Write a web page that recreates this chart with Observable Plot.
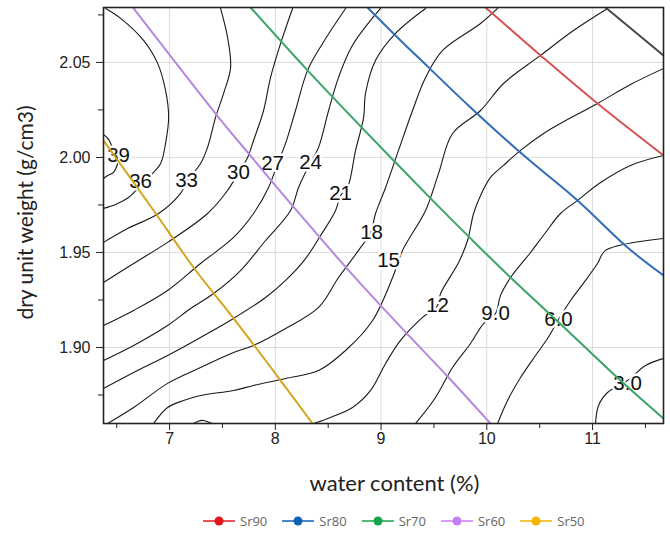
<!DOCTYPE html>
<html><head><meta charset="utf-8">
<script src="https://cdn.jsdelivr.net/npm/d3@7"></script>
<script src="https://cdn.jsdelivr.net/npm/@observablehq/plot@0.6"></script>
<style>
body{margin:0;background:#fff;}
#wrap{position:relative;width:670px;height:533px;overflow:hidden;}
#legend{position:absolute;left:203px;top:511px;height:20px;display:flex;align-items:center;font:13px "Open Sans",sans-serif;color:#666;}
.item{display:flex;align-items:center;margin-right:15px;}
.item svg{margin-right:5px;}
</style></head><body>
<div id="wrap"><div id="chart"></div><div id="legend"></div></div>
<script>
// ---- data (water content %, dry unit weight g/cm3) ----
const xTicks = [7, 8, 9, 10, 11];
const xMinor = [6.5, 7.5, 8.5, 9.5, 10.5, 11.5];
const yTicks = [1.90, 1.95, 2.00, 2.05];
const yMinor = [1.875, 1.925, 1.975, 2.025, 2.075];

const contourLevels = ["39", "36", "33", "30", "27", "24", "21", "18", "15", "12", "9.0", "6.0", "3.0", "15b"];
const c39 = [[6.375,2.0121],[6.423,2.0095],[6.452,2.0063],[6.518,2.0011],[6.470,1.9921],[6.414,1.9905],[6.375,1.9889]];
const c36 = [[6.395,2.0784],[6.537,2.0732],[6.754,2.0616],[6.887,2.0495],[6.962,2.0353],[6.991,2.0211],[6.962,2.0074],[6.915,1.9968],[6.820,1.9905],[6.707,1.9842],[6.612,1.9789],[6.489,1.9753],[6.375,1.9732]];
const c33 = [[7.482,2.0784],[7.548,2.0632],[7.577,2.0474],[7.511,2.0337],[7.435,2.0211],[7.359,2.0053],[7.293,1.9968],[7.170,1.9879],[7.104,1.9811],[6.896,1.9705],[6.603,1.9626],[6.375,1.9553]];
const c30 = [[8.163,2.0784],[8.050,2.0600],[7.955,2.0421],[7.889,2.0247],[7.794,2.0089],[7.738,2.0000],[7.652,1.9921],[7.548,1.9826],[7.359,1.9705],[6.981,1.9553],[6.660,1.9442],[6.375,1.9342]];
const c27 = [[8.664,2.0784],[8.447,2.0600],[8.305,2.0458],[8.191,2.0247],[8.097,2.0074],[8.021,1.9968],[7.936,1.9842],[7.794,1.9705],[7.605,1.9579],[7.293,1.9442],[6.981,1.9300],[6.660,1.9195],[6.375,1.9116]];
const c24 = [[8.995,2.0784],[8.730,2.0590],[8.598,2.0421],[8.504,2.0247],[8.409,2.0053],[8.333,1.9974],[8.220,1.9842],[8.144,1.9721],[7.908,1.9563],[7.671,1.9405],[7.416,1.9284],[7.199,1.9205],[6.981,1.9116],[6.660,1.9011],[6.375,1.8932]];
const c21 = [[9.421,2.0784],[9.137,2.0653],[8.948,2.0511],[8.853,2.0337],[8.835,2.0211],[8.759,2.0037],[8.683,1.9842],[8.617,1.9800],[8.570,1.9721],[8.428,1.9589],[8.286,1.9468],[8.097,1.9353],[7.908,1.9263],[7.605,1.9153],[7.293,1.9053],[6.981,1.8958],[6.660,1.8868],[6.375,1.8784]];
const c18 = [[10.102,2.0784],[9.941,2.0705],[9.582,2.0563],[9.421,2.0421],[9.298,2.0247],[9.165,2.0037],[9.043,1.9842],[8.948,1.9705],[8.901,1.9605],[8.787,1.9511],[8.598,1.9368],[8.409,1.9211],[8.097,1.9100],[7.794,1.9011],[7.605,1.8974],[7.293,1.8895],[6.981,1.8811],[6.660,1.8684],[6.414,1.8600]];
const c15 = [[11.142,2.0784],[10.820,2.0668],[10.508,2.0537],[10.158,2.0389],[9.941,2.0247],[9.676,2.0126],[9.544,1.9916],[9.421,1.9721],[9.203,1.9511],[9.109,1.9368],[8.920,1.9142],[8.664,1.8984],[8.409,1.8879],[8.097,1.8837],[7.794,1.8800],[7.605,1.8774],[7.293,1.8747],[7.132,1.8721],[6.981,1.8684],[6.849,1.8600]];
const c12 = [[11.671,2.0468],[11.359,2.0384],[11.047,2.0284],[10.697,2.0179],[10.537,2.0126],[10.319,2.0037],[10.158,1.9958],[10.035,1.9895],[9.941,1.9800],[9.875,1.9705],[9.818,1.9563],[9.733,1.9447],[9.563,1.9284],[9.534,1.9221],[9.392,1.9158],[9.184,1.9037],[9.043,1.8916],[8.901,1.8774],[8.730,1.8684],[8.522,1.8632],[8.362,1.8600]];
const c9 = [[11.671,2.0011],[11.359,1.9958],[11.076,1.9868],[10.858,1.9774],[10.697,1.9705],[10.556,1.9605],[10.414,1.9500],[10.225,1.9368],[10.130,1.9274],[10.083,1.9179],[9.969,1.9126],[9.846,1.9021],[9.676,1.8895],[9.515,1.8737],[9.326,1.8600]];
const c6 = [[11.671,1.9574],[11.123,1.9511],[11.047,1.9442],[10.934,1.9353],[10.792,1.9247],[10.678,1.9147],[10.574,1.9047],[10.461,1.8958],[10.319,1.8842],[10.196,1.8721],[10.102,1.8600]];
const c3 = [[11.671,1.8942],[11.501,1.8905],[11.331,1.8826],[11.142,1.8763],[11.057,1.8695],[11.028,1.8600]];
const c15b = [[7.227,1.8600],[7.265,1.8611],[7.322,1.8616],[7.378,1.8605],[7.407,1.8600]];
const contourPaths = [c39, c36, c33, c30, c27, c24, c21, c18, c15, c12, c9, c6, c3, c15b];

const labelText = ["39", "36", "33", "30", "27", "24", "21", "18", "15", "12", "9.0", "6.0", "3.0"];
const labelW = [6.518, 6.726, 7.161, 7.652, 7.974, 8.333, 8.617, 8.910, 9.071, 9.534, 10.083, 10.678, 11.331];
const labelG = [2.0011, 1.9874, 1.9879, 1.9921, 1.9968, 1.9974, 1.9811, 1.9605, 1.9458, 1.9221, 1.9179, 1.9147, 1.8811];

const srNames = ["Sr90", "Sr80", "Sr70", "Sr60", "Sr50", "Sr100"];
const srColors = ["#d65454", "#2f6db8", "#3aa468", "#b688dc", "#d4a620", "#4a4a4a"];
const legendColors = ["#e3161e", "#0e62b4", "#14a34c", "#c77ef0", "#f5b400"];
const sr90 = [[9.988,2.0789],[10.508,2.0537],[11.047,2.0284],[11.671,2.0011]];
const sr80 = [[8.872,2.0789],[9.165,2.0626],[9.449,2.0474],[9.846,2.0263],[10.348,2.0011],[10.858,1.9774],[11.331,1.9526],[11.671,1.9379]];
const sr70 = [[7.766,2.0789],[8.305,2.0458],[8.825,2.0153],[9.487,1.9774],[9.846,1.9574],[10.225,1.9368],[10.792,1.9074],[11.265,1.8826],[11.671,1.8626]];
const sr60 = [[6.660,2.0784],[7.463,2.0211],[7.747,2.0021],[8.201,1.9721],[8.778,1.9353],[9.279,1.9053],[9.638,1.8842],[10.035,1.8600]];
const sr50 = [[6.375,2.0089],[6.849,1.9721],[7.227,1.9421],[7.605,1.9153],[8.050,1.8826],[8.352,1.8600]];
const sr100 = [[11.123,2.0789],[11.671,2.0537]];
const srPaths = [sr90, sr80, sr70, sr60, sr50, sr100];

const xTitle = "water content (%)";
const yTitle = "dry unit weight (g/cm3)";

// ---- build tables ----
const contourRows = contourPaths.flatMap((p, i) => p.map(([w, g]) => ({level: contourLevels[i], w, g})));
const labels = labelText.map((t, i) => ({t, w: labelW[i], g: labelG[i]}));
const srRows = srPaths.flatMap((p, i) => p.map(([w, g]) => ({name: srNames[i], w, g})));

const chart = Plot.plot({
  width: 670,
  height: 500,
  marginLeft: 103,
  marginRight: 7,
  marginTop: 7,
  marginBottom: 77,
  style: {fontFamily: "'Liberation Sans', Arial, sans-serif", fontSize: "16px", color: "#222", background: "white"},
  x: {domain: [6.375, 11.671]},
  y: {domain: [1.86, 2.0789]},
  color: {domain: srNames, range: srColors},
  marks: [
    Plot.gridX(xTicks, {stroke: "#dcdcdc", strokeOpacity: 1}),
    Plot.gridY(yTicks, {stroke: "#dcdcdc", strokeOpacity: 1}),
    Plot.line(contourRows, {x: "w", y: "g", z: "level", stroke: "#1a1a1a", strokeWidth: 1.1, curve: "catmull-rom", clip: true}),
    Plot.text(labels, {x: "w", y: "g", text: "t", fontSize: 20.5, fill: "#111", stroke: "white", strokeWidth: 5, paintOrder: "stroke"}),
    Plot.line(srRows, {x: "w", y: "g", z: "name", stroke: "name", strokeWidth: 2, curve: "catmull-rom", clip: true}),
    Plot.axisX(xTicks, {tickSize: 7, tickPadding: 2, fontSize: 16, label: null, stroke: "#222"}),
    Plot.axisX(xMinor, {tickSize: 5, tickFormat: () => "", label: null, stroke: "#222"}),
    Plot.axisY(yTicks, {tickSize: 7, tickPadding: 6, fontSize: 16, tickFormat: d3.format(".2f"), label: null, stroke: "#222"}),
    Plot.axisY(yMinor, {tickSize: 5, tickFormat: () => "", label: null, stroke: "#222"}),
    Plot.frame({stroke: "#222", strokeWidth: 1.6}),
    Plot.text([xTitle], {frameAnchor: "bottom", text: d => d, dy: 67, dx: 11, fontSize: 22, fontFamily: "Lato", fill: "#222"}),
    Plot.text([yTitle], {frameAnchor: "left", text: d => d, rotate: -90, textAnchor: "middle", dx: -77, dy: -3, fontSize: 21, fontFamily: "Lato", fill: "#222"})
  ]
});
document.getElementById("chart").appendChild(chart);

const legend = document.getElementById("legend");
srNames.slice(0, 5).forEach((n, i) => {
  const it = document.createElement("div");
  it.className = "item";
  it.innerHTML = `<svg width="32" height="12"><line x1="0" y1="6" x2="32" y2="6" stroke="${legendColors[i]}" stroke-width="1.5"/><circle cx="16" cy="6" r="4.5" fill="${legendColors[i]}"/></svg><span>${n}</span>`;
  legend.appendChild(it);
});
</script>
</body></html>
